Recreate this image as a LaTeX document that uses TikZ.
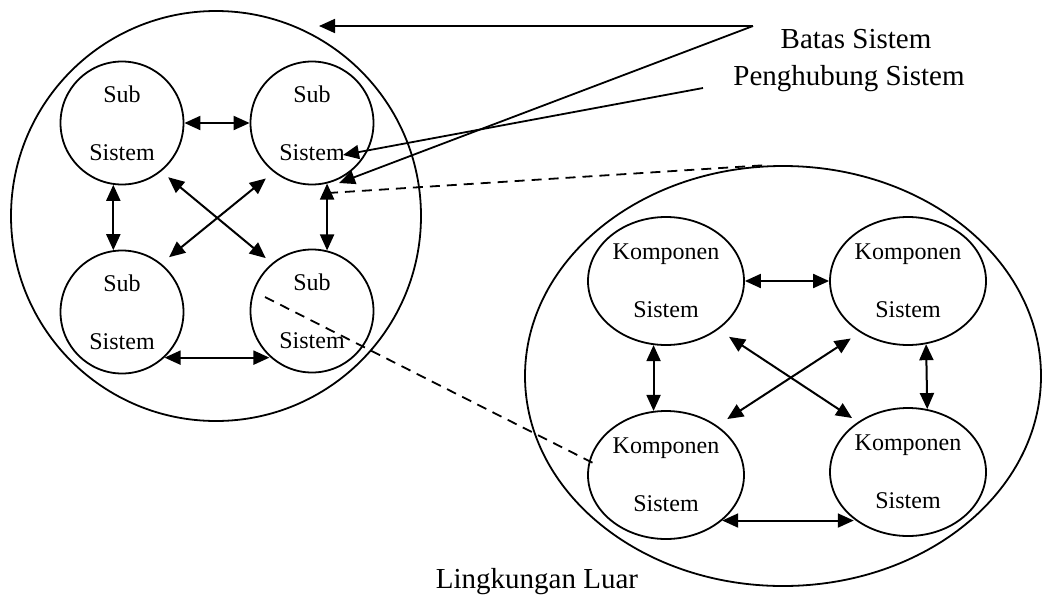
\documentclass[tikz,border=0pt]{standalone}
\usepackage{fontspec}
\setmainfont{Liberation Serif}
\usetikzlibrary{arrows.meta,shapes.geometric}

\begin{document}
\begin{tikzpicture}[x=0.5pt, y=-0.5pt,
    subsis/.style={draw, circle, line width=0.9pt, minimum size=61.5pt, inner sep=0pt, align=center, font=\fontsize{12}{29}\selectfont},
    komp/.style={draw, ellipse, line width=0.9pt, minimum width=78pt, minimum height=64pt, inner sep=0pt, align=center, font=\fontsize{12}{29}\selectfont},
    panah/.style={{Triangle[length=8pt,width=7pt]}-{Triangle[length=8pt,width=7pt]}, line width=1pt},
    tunjuk/.style={-{Triangle[length=8pt,width=7pt]}, line width=0.9pt},
    putus/.style={dash pattern=on 5pt off 3.5pt, line width=0.9pt},
    keterangan/.style={anchor=base, font=\fontsize{14.5}{17}\selectfont}]
    \useasboundingbox (0,0) rectangle (1043,595);

    % Batas sistem dan lingkungan luar
    \node[draw, circle, line width=0.9pt, minimum size=205pt] (sistem) at (216,216) {};
    \node[draw, ellipse, line width=0.9pt, minimum width=258pt, minimum height=210pt] (lingkungan) at (783,376) {};

    % Sub sistem
    \node[subsis] (sTL) at (122,123) {Sub\\Sistem};
    \node[subsis] (sTR) at (312,123) {Sub\\Sistem};
    \node[subsis] (sBL) at (122,312) {Sub\\Sistem};
    \node[subsis] (sBR) at (312,311) {Sub\\Sistem};

    % Komponen sistem
    \node[komp] (kTL) at (666,281) {Komponen\\Sistem};
    \node[komp] (kTR) at (908,281) {Komponen\\Sistem};
    \node[komp] (kBL) at (666,475) {Komponen\\Sistem};
    \node[komp] (kBR) at (908,472) {Komponen\\Sistem};

    % Hubungan antar sub sistem
    \draw[panah] (sTL) -- (sTR);
    \draw[panah] (sTL.262) -- (sBL.98);
    \draw[panah] (sTR.284) -- (sBR.76);
    \draw[panah] (sBL.-47) -- (sBL.-47 -| sBR.227);
    \draw[panah, shorten <=4.5pt, shorten >=4pt] (sTL.-51) -- (sBR.130);
    \draw[panah, shorten <=5pt, shorten >=5pt] (sTR.232) -- (sBL.51);

    % Hubungan antar komponen
    \draw[panah] (kTL) -- (kTR);
    \draw[panah] (kTL.259) -- (kBL.101);
    \draw[panah] (kTR.-74) -- (kBR.73);
    \draw[panah] (kBL.-39) -- (kBL.-39 -| kBR.221);
    \draw[panah, shorten <=6.5pt, shorten >=3.5pt] (kTL.-43) -- (kBR.135);
    \draw[panah, shorten <=5.5pt, shorten >=6pt] (kTR.227) -- (kBL.44);

    % Garis putus-putus ke lingkungan
    \coordinate (putusA1) at (328,193);
    \coordinate (putusA2) at (768,165);
    \coordinate (putusB1) at (265,297);
    \coordinate (putusB2) at (597,465);
    \draw[putus] (putusA1) -- (putusA2);
    \draw[putus] (putusB1) -- (putusB2);

    % Keterangan
    \node[keterangan] (lblBatas) at (856,48) {Batas Sistem};
    \node[keterangan] (lblPenghubung) at (849,85) {Penghubung Sistem};
    \node[keterangan] (lblLuar) at (537,588) {Lingkungan Luar};

    \coordinate (ujungBatas) at (753,26);
    \coordinate (ujungPenghubung) at (703,88);
    \coordinate (tepiAtas) at (319,26);
    \coordinate (tepiSub) at (339,183);
    \coordinate (tengahSub) at (343,155);
    \draw[tunjuk] (ujungBatas) -- (tepiAtas);
    \draw[tunjuk] (ujungBatas) -- (tepiSub);
    \draw[tunjuk] (ujungPenghubung) -- (tengahSub);

\end{tikzpicture}
\end{document}
